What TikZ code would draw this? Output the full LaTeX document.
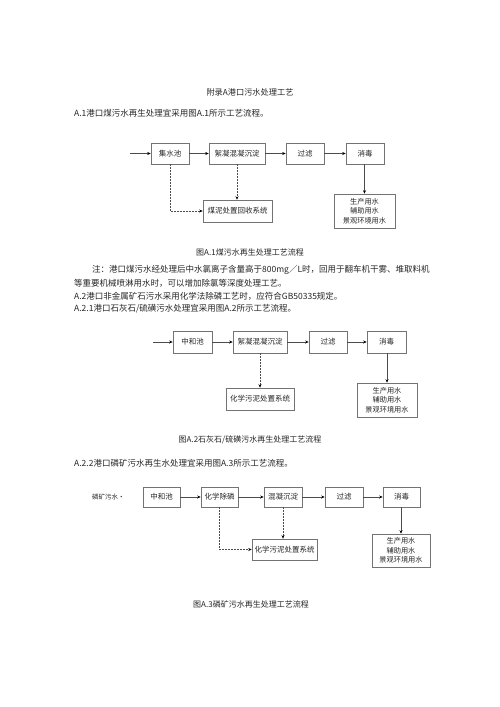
\documentclass[tikz,border=0pt]{standalone}
\usepackage{fontspec}
\setmainfont{Noto Sans CJK SC}
\usetikzlibrary{arrows.meta}
\tikzset{
  box/.style={draw=black!55, line width=0.6pt, inner sep=0pt, align=center, text=black!85,
    font=\fontsize{7.5}{9.5}\selectfont},
  outbox/.style={box, font=\fontsize{7.2}{9.5}\selectfont},
  flow/.style={draw=black!70, line width=0.6pt, -{Stealth[length=3.5pt,width=3pt,black]}},
  dflow/.style={flow, dash pattern=on 1.6pt off 1.4pt},
  bodytext/.style={anchor=west, inner sep=0pt, text=black!85, font=\fontsize{8.5}{10}\selectfont},
  captext/.style={inner sep=0pt, text=black!85, font=\fontsize{8}{10}\selectfont},
}
\begin{document}
\begin{tikzpicture}[x=1pt,y=-1pt]
\useasboundingbox[fill=white] (0,0) rectangle (500,707);

% texts
\node[captext, font=\fontsize{8.2}{10}\selectfont] (title) at (250,92) {附录A港口污水处理工艺};
\node[bodytext] (t1) at (74,113) {A.1港口煤污水再生处理宜采用图A.1所示工艺流程。};

% diagram 1
\node[box, minimum width=38, minimum height=21] (jsc) at (170,153.5) {集水池};
\node[box, minimum width=56, minimum height=21] (xn1) at (237,153.5) {絮凝混凝沉淀};
\node[box, minimum width=38, minimum height=21] (gl1) at (305,153.5) {过滤};
\node[box, minimum width=38, minimum height=21] (xd1) at (365,153.5) {消毒};
\node[box, minimum width=69, minimum height=22] (mn1) at (237.5,211) {煤泥处置回收系统};
\node[outbox, minimum width=61, minimum height=34] (out1) at (364.5,211) {生产用水\\辅助用水\\景观环境用水};
\coordinate (in1) at (130,153.5);
\draw[flow] (in1) -- (jsc);
\draw[flow] (jsc) -- (xn1);
\draw[flow] (xn1) -- (gl1);
\draw[flow] (gl1) -- (xd1);
\draw[flow] (xd1.south -| out1.north) -- (out1.north);
\draw[dflow] (jsc.south) |- (mn1.west);
\draw[dflow] (xn1.south) -- (xn1.south |- mn1.north);
\node[captext] (cap1) at (250,252) {图A.1煤污水再生处理工艺流程};

% notes
\node[bodytext] (n1) at (92,270) {注：港口煤污水经处理后中水氯离子含量高于800mg／L时，回用于翻车机干雾、堆取料机};
\node[bodytext] (n2) at (74,283) {等重要机械喷淋用水时，可以增加除氯等深度处理工艺。};
\node[bodytext] (n3) at (74,296) {A.2港口非金属矿石污水采用化学法除磷工艺时，应符合GB50335规定。};
\node[bodytext] (n4) at (74,309) {A.2.1港口石灰石/硫磺污水处理宜采用图A.2所示工艺流程。};

% diagram 2
\node[box, minimum width=39, minimum height=22] (zh2) at (192.5,342) {中和池};
\node[box, minimum width=54, minimum height=22] (xn2) at (260,342) {絮凝混凝沉淀};
\node[box, minimum width=38, minimum height=22] (gl2) at (328,342) {过滤};
\node[box, minimum width=39, minimum height=22] (xd2) at (386.5,342) {消毒};
\node[box, minimum width=68, minimum height=22] (hx2) at (260,399) {化学污泥处置系统};
\node[outbox, minimum width=60, minimum height=34] (out2) at (387,400) {生产用水\\辅助用水\\景观环境用水};
\coordinate (in2) at (153,342);
\draw[flow] (in2) -- (zh2);
\draw[flow] (zh2) -- (xn2);
\draw[flow] (xn2) -- (gl2);
\draw[flow] (gl2) -- (xd2);
\draw[flow] (xd2.south -| out2.north) -- (out2.north);
\draw[dflow] (xn2.south) -- (hx2.north);
\node[captext] (cap2) at (250,440) {图A.2石灰石/硫磺污水再生处理工艺流程};

% diagram 3
\node[bodytext] (t3) at (74,463) {A.2.2港口磷矿污水再生水处理宜采用图A.3所示工艺流程。};
\node[anchor=west, inner sep=0pt, text=black!85, font=\fontsize{6.5}{8}\selectfont] (src3) at (92,497) {磷矿污水•};
\node[box, minimum width=37, minimum height=20] (zh3) at (161.5,497) {中和池};
\node[box, minimum width=37, minimum height=20] (cp3) at (219.5,497) {化学除磷};
\node[box, minimum width=38, minimum height=20] (hn3) at (283,497) {混凝沉淀};
\node[box, minimum width=38, minimum height=20] (gl3) at (344,497) {过滤};
\node[box, minimum width=37, minimum height=20] (xd3) at (401.5,497) {消毒};
\node[box, minimum width=65, minimum height=21] (hx3) at (284.5,549.5) {化学污泥处置系统};
\node[outbox, minimum width=58, minimum height=33] (out3) at (401,550.5) {生产用水\\辅助用水\\景观环境用水};
\draw[flow] (zh3) -- (cp3);
\draw[flow] (cp3) -- (hn3);
\draw[flow] (hn3) -- (gl3);
\draw[flow] (gl3) -- (xd3);
\draw[flow] (xd3.south -| out3.north) -- (out3.north);
\draw[dflow] (cp3.south) |- (hx3.west);
\draw[dflow] (hn3.south) -- (hn3.south |- hx3.north);
\node[captext] (cap3) at (251,604) {图A.3磷矿污水再生处理工艺流程};
\end{tikzpicture}
\end{document}
